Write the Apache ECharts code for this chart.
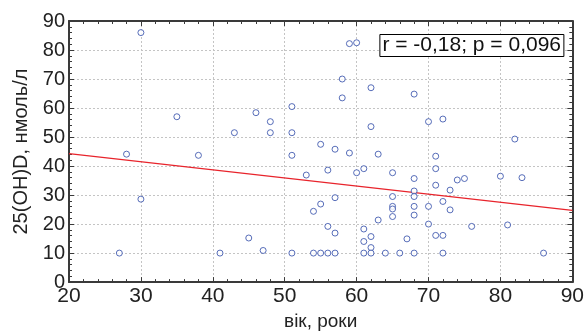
<!DOCTYPE html>
<html>
<head>
<meta charset="utf-8">
<script src="https://cdn.jsdelivr.net/npm/echarts@6/dist/echarts.min.js"></script>
<style>html,body{margin:0;padding:0;background:#fff}#c{width:587px;height:336px}</style>
</head>
<body>
<div id="c"></div>
<script>
// Age (years)
const ages = [30,35,46,48,43,48,51,51,28,38,51,
  59,60,58,58,62,68,62,70,72,82,55,57,59,63,71,
  53,30,54,45,47,27,41,51,54,
  56,60,61,65,71,68,71,74,75,80,83,73,68,
  55,57,65,68,72,70,65,65,68,73,65,68,63,
  56,57,61,70,76,81,62,67,71,72,61,62,
  55,56,57,61,62,64,66,68,72,86];
// 25(OH)D, nmol/l
const vitD = [86,57,58.4,55.3,51.5,51.5,60.5,51.5,44.1,43.7,43.7,
  82.2,82.5,70,63.5,67,64.8,53.6,55.3,56.2,49.3,47.5,45.8,44.5,44.1,43.4,
  36.9,28.6,24.4,15.2,10.9,10,10,10,10,
  38.6,37.7,39.1,37.7,39.1,35.7,33.4,35.2,35.7,36.5,36.0,31.7,31.4,
  26.9,29.1,29.5,29.5,27.8,26.1,26.1,25.2,26.1,24.9,22.6,23.1,21.4,
  19.2,16.9,18.3,20.0,19.2,19.7,15.7,14.9,16.1,16.1,14.0,11.9,
  10,10,10,10,10,10,10,10,10,10];
// Regression line end points
const regX = [20, 90];
const regY = [44.3, 24.7];
const xTicks = [20,30,40,50,60,70,80,90];
const yTicks = [0,10,20,30,40,50,60,70,80,90];
const annotation = 'r = -0,18; p = 0,096';
const xTitle = 'вік, роки';
const yTitle = '25(OH)D, нмоль/л';

const font = 'Liberation Sans, Arial, sans-serif';
const axisLine = {show:true, onZero:false, lineStyle:{color:'#3a3a3a', width:2}};
const tick = {show:true, inside:true, length:5, lineStyle:{color:'#3a3a3a', width:1}};
const minor = {show:true, splitNumber:5, length:3, lineStyle:{color:'#3a3a3a', width:1}};

const chart = echarts.init(document.getElementById('c'), null, {renderer:'canvas'});
chart.setOption({
  animation:false,
  grid:{left:69, right:9, top:21, bottom:51, containLabel:false},
  title:{
    text:annotation, right:23, top:34,
    borderColor:'#000', borderWidth:1, backgroundColor:'#fff',
    padding:[1,3,1,3],
    textStyle:{fontFamily:font, fontSize:21, fontWeight:'normal', color:'#111'}
  },
  xAxis:[{
    type:'value', min:xTicks[0], max:xTicks[xTicks.length-1], interval:10, position:'bottom',
    axisLine:axisLine, axisTick:tick, minorTick:minor,
    axisLabel:{fontFamily:font, fontSize:21, color:'#222', margin:4},
    splitLine:{show:true, lineStyle:{color:'#c4c4c4', type:[2,2], width:1}},
    name:xTitle, nameLocation:'middle', nameGap:29,
    nameTextStyle:{fontFamily:font, fontSize:19, color:'#222'}
  },{
    type:'value', min:xTicks[0], max:xTicks[xTicks.length-1], interval:10, position:'top',
    axisLine:axisLine, axisTick:tick, minorTick:minor,
    axisLabel:{show:false}, splitLine:{show:false}
  }],
  yAxis:[{
    type:'value', min:yTicks[0], max:yTicks[yTicks.length-1], interval:10, position:'left',
    axisLine:axisLine, axisTick:tick, minorTick:minor,
    axisLabel:{fontFamily:font, fontSize:20, color:'#222', margin:4},
    splitLine:{show:true, lineStyle:{color:'#c4c4c4', type:[2,2], width:1}},
    name:yTitle, nameLocation:'middle', nameGap:32, nameRotate:90,
    nameTextStyle:{fontFamily:font, fontSize:20, color:'#222'}
  },{
    type:'value', min:yTicks[0], max:yTicks[yTicks.length-1], interval:10, position:'right',
    axisLine:axisLine, axisTick:tick, minorTick:minor,
    axisLabel:{show:false}, splitLine:{show:false}
  }],
  series:[{
    type:'scatter',
    data: ages.map((a,i)=>[a, vitD[i]]),
    symbol:'circle', symbolSize:6,
    itemStyle:{color:'#ffffff', borderColor:'#2e4aa8', borderWidth:1},
    z:3
  },{
    type:'line',
    data: regX.map((x,i)=>[x, regY[i]]),
    showSymbol:false, symbol:'none',
    lineStyle:{color:'#e8242c', width:1.2},
    z:2
  }]
});
</script>
</body>
</html>
